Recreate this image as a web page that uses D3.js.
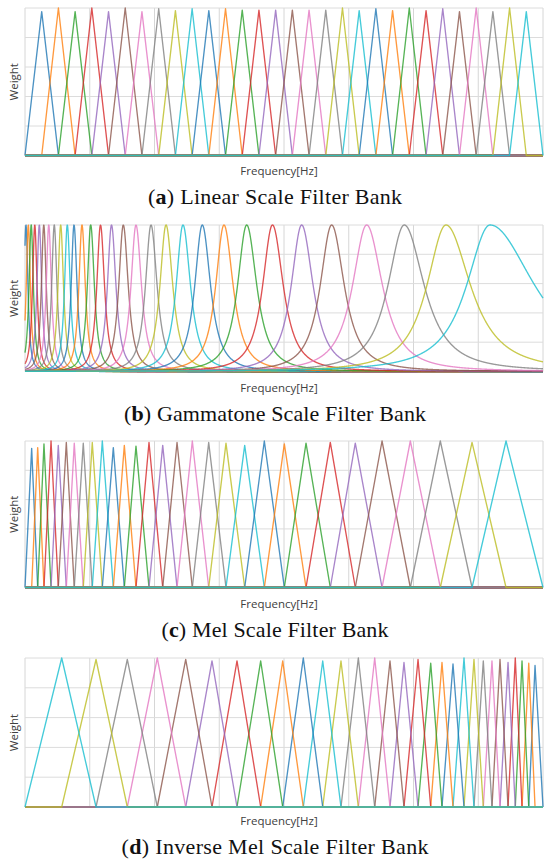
<!DOCTYPE html>
<html>
<head>
<meta charset="utf-8">
<script src="https://cdn.jsdelivr.net/npm/d3@7/dist/d3.min.js"></script>
<style>
  body { margin: 0; background: #fff; }
  .axis-label { font-family: "Open Sans", "Noto Sans", sans-serif; font-size: 11.5px; fill: #404040; }
  .caption { font-family: "Liberation Serif", serif; font-size: 22px; fill: #111; }
</style>
</head>
<body>
<div id="chart"></div>
<script>
// Eixos: frequência 0..8000 Hz, peso 0..1 (sem rótulos de escala na figura)
const freqGrid = [0, 1000, 2000, 3000, 4000, 5000, 6000, 7000, 8000];
const weightGrid = [0, 0.2, 0.4, 0.6, 0.8, 1.0];
const palette = ["#1f77b4", "#ff7f0e", "#2ca02c", "#d62728", "#9467bd",
                 "#8c564b", "#e377c2", "#7f7f7f", "#bcbd22", "#17becf"];

// (a) Linear: centros e alturas dos picos
const linearCenters = [258, 516, 774, 1032, 1290, 1548, 1806, 2065, 2323, 2581,
                       2839, 3097, 3355, 3613, 3871, 4129, 4387, 4645, 4903, 5161,
                       5419, 5677, 5935, 6194, 6452, 6710, 6968, 7226, 7484, 7742];
const linearPeaks = [0.975, 1.0, 0.975, 1.0, 0.975, 1.0, 0.975, 0.995, 0.982, 0.995,
                     0.982, 0.995, 0.986, 0.986, 0.986, 0.986, 0.986, 0.986, 1.0, 0.982,
                     0.995, 0.982, 1.0, 0.982, 0.995, 0.975, 1.0, 0.975, 1.0, 0.975];

// (b) Gammatone: centros e meias larguras (esquerda / direita) em Hz
const gammaCenters = [15, 51, 96, 151, 221, 290, 367, 452, 551, 653,
                      757, 880, 1015, 1166, 1336, 1518, 1714, 1946, 2178, 2440,
                      2738, 3073, 3424, 3822, 4273, 4736, 5277, 5858, 6502, 7182];
const gammaHalfLeft = [36, 38, 40, 41, 43, 44, 46, 48, 49, 50,
                       52, 57, 62, 68, 75, 83, 92, 102, 112, 125,
                       138, 152, 168, 180, 192, 210, 260, 300, 350, 430];
const gammaHalfRight = [36, 38, 40, 42, 44, 46, 48, 50, 52, 54,
                        56, 61, 67, 74, 82, 91, 101, 112, 124, 138,
                        152, 168, 185, 198, 210, 232, 290, 365, 450, 820];

// (c) Mel
const melCenters = [103, 196, 293, 402, 514, 638, 761, 900, 1039, 1194,
                    1364, 1534, 1714, 1915, 2127, 2348, 2584, 2837, 3104, 3393,
                    3696, 4005, 4340, 4715, 5101, 5514, 5951, 6414, 6904, 7429];
const melPeaks = [0.95, 0.955, 0.98, 1.0, 0.97, 0.99, 0.985, 0.985, 0.99, 1.0,
                  0.955, 0.97, 0.965, 0.99, 0.97, 0.99, 1.0, 0.99, 0.985, 0.97,
                  1.0, 0.98, 0.985, 0.99, 0.985, 1.0, 1.0, 1.0, 0.99, 1.0];

// (d) Inverse Mel (filtro 0 é o mais agudo, à direita)
const invMelCenters = [7877, 7780, 7676, 7572, 7460, 7336, 7212, 7078, 6934, 6780,
                       6610, 6440, 6266, 6070, 5853, 5637, 5401, 5148, 4880, 4598,
                       4298, 3980, 3640, 3274, 2888, 2482, 2043, 1580, 1097, 567];
const invMelPeaks = [0.95, 0.965, 0.98, 1.0, 0.97, 0.99, 0.98, 0.98, 0.99, 1.0,
                     0.96, 0.97, 0.965, 0.99, 0.97, 0.98, 1.0, 1.0, 0.98, 0.98,
                     1.0, 0.98, 0.98, 0.98, 0.98, 0.99, 1.0, 0.99, 0.99, 1.0];

const panels = [
  {letter: "a", title: " Linear Scale Filter Bank", top: 8, bottom: 155.5, kind: "tri",
   centers: linearCenters, peaks: linearPeaks, capW: 254},
  {letter: "b", title: " Gammatone Scale Filter Bank", top: 225, bottom: 371.5, kind: "gamma",
   centers: gammaCenters, capW: 302},
  {letter: "c", title: " Mel Scale Filter Bank", top: 441, bottom: 587.5, kind: "tri",
   centers: melCenters, peaks: melPeaks, capW: 227},
  {letter: "d", title: " Inverse Mel Scale Filter Bank", top: 658, bottom: 807, kind: "tri",
   centers: invMelCenters, peaks: invMelPeaks, capW: 307}
];

const width = 550, height = 866;
const plotLeft = 25, plotRight = 543;

const svg = d3.select("#chart")
  .append("svg")
  .attr("width", width)
  .attr("height", height);

const x = d3.scaleLinear().domain([0, 8000]).range([plotLeft, plotRight]);

// Triângulo: sobe do centro anterior, pico no centro, desce até o próximo centro
function triangle(p, i) {
  const pts = [0, ...p.centers.slice().sort((a, b) => a - b), 8000];
  const j = pts.indexOf(p.centers[i]);
  return [[0, 0], [pts[j - 1], 0], [pts[j], p.peaks[i]], [pts[j + 1], 0], [8000, 0]];
}

// Resposta do filtro gammatone com meias larguras assimétricas
function gammaCurve(i) {
  const fc = gammaCenters[i];
  const k = 0.884; // meia altura para expoente 1.2
  return d3.range(0, 8001, 4).map(f => {
    const s = (f < fc ? gammaHalfLeft[i] : gammaHalfRight[i]) / k;
    const u = (f - fc) / s;
    return [f, Math.pow(1 + u * u, -1.2)];
  });
}

panels.forEach(p => {
  const y = d3.scaleLinear().domain([0, 1]).range([p.bottom, p.top]);
  const g = svg.append("g");

  // Grade
  g.selectAll(".vgrid").data(freqGrid).join("line")
    .attr("x1", d => x(d)).attr("x2", d => x(d))
    .attr("y1", p.top).attr("y2", p.bottom)
    .attr("stroke", "#d6d6d6").attr("stroke-width", 1);
  g.selectAll(".hgrid").data(weightGrid).join("line")
    .attr("x1", plotLeft).attr("x2", plotRight)
    .attr("y1", d => y(d)).attr("y2", d => y(d))
    .attr("stroke", "#dcdcdc").attr("stroke-width", 1);

  const line = d3.line().x(d => x(d[0])).y(d => y(d[1]));
  const series = p.centers.map((c, i) => p.kind === "tri" ? triangle(p, i) : gammaCurve(i));

  g.selectAll(".filter").data(series).join("path")
    .attr("d", line)
    .attr("fill", "none")
    .attr("stroke", (d, i) => palette[i % 10])
    .attr("stroke-width", 1.35)
    .attr("stroke-opacity", 0.8)
    .attr("stroke-linejoin", "round");

  // Rótulos dos eixos
  const midY = (p.top + p.bottom) / 2;
  svg.append("text").attr("class", "axis-label")
    .attr("transform", `translate(17.5,${midY}) rotate(-90)`)
    .attr("text-anchor", "middle")
    .text("Weight");
  svg.append("text").attr("class", "axis-label")
    .attr("x", 279).attr("y", p.top + 167)
    .attr("text-anchor", "middle")
    .text("Frequency[Hz]");

  // Legenda
  const cap = svg.append("text").attr("class", "caption")
    .attr("x", 275).attr("y", p.top + 196)
    .attr("text-anchor", "middle")
    .attr("textLength", p.capW)
    .attr("lengthAdjust", "spacing");
  cap.append("tspan").text("(");
  cap.append("tspan").attr("font-weight", "bold").text(p.letter);
  cap.append("tspan").text(")" + p.title);
});
</script>
</body>
</html>
